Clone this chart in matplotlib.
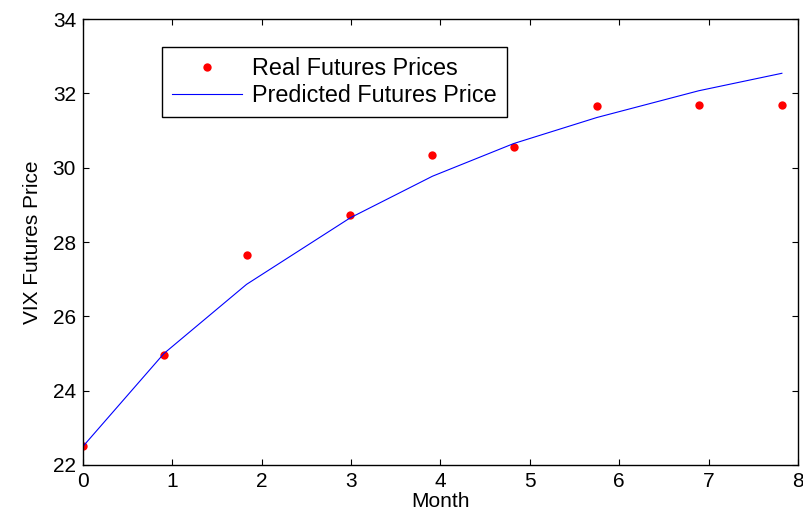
import numpy as np
import matplotlib
matplotlib.use("Agg")
import matplotlib.pyplot as plt

plt.rcParams['font.family'] = ['Liberation Sans', 'DejaVu Sans']

# months to maturity and prices
months = [0, 0.906, 1.83, 2.99, 3.91, 4.82, 5.75, 6.89, 7.82]
real_prices = [22.51, 24.96, 27.65, 28.72, 30.33, 30.55, 31.65, 31.70, 31.70]
predicted_prices = [22.5, 25.0, 26.86, 28.65, 29.77, 30.65, 31.35, 32.07, 32.54]

fig = plt.figure(figsize=(8.04, 5.17), dpi=100)
ax = fig.add_axes([0.1032, 0.1006, 0.8893, 0.8626])

ax.plot(months, real_prices, 'o', color='red', markersize=6, markeredgewidth=0,
        label='Real Futures Prices')
ax.plot(months, predicted_prices, '-', color='blue', linewidth=0.8,
        label='Predicted Futures Price')

ax.set_xlim(0, 8)
ax.set_ylim(22, 34)
ax.set_xticks(range(0, 9))
ax.set_yticks(range(22, 35, 2))
ax.tick_params(direction='in', top=True, right=True, length=4, labelsize=15, pad=5)
ax.set_xlabel('Month', fontsize=15, labelpad=1)
ax.set_ylabel('VIX Futures Price', fontsize=15, labelpad=8)
for s in ax.spines.values():
    s.set_linewidth(1.0)

leg = ax.legend(loc='upper left', bbox_to_anchor=(0.1105, 0.937), fontsize=16.8,
                fancybox=False, framealpha=1, edgecolor='black', handlelength=3.0,
                borderpad=0.42, labelspacing=0.18, handletextpad=0.45,
                borderaxespad=0)
leg.get_frame().set_linewidth(1.0)

fig.savefig('out.png', dpi=100)
